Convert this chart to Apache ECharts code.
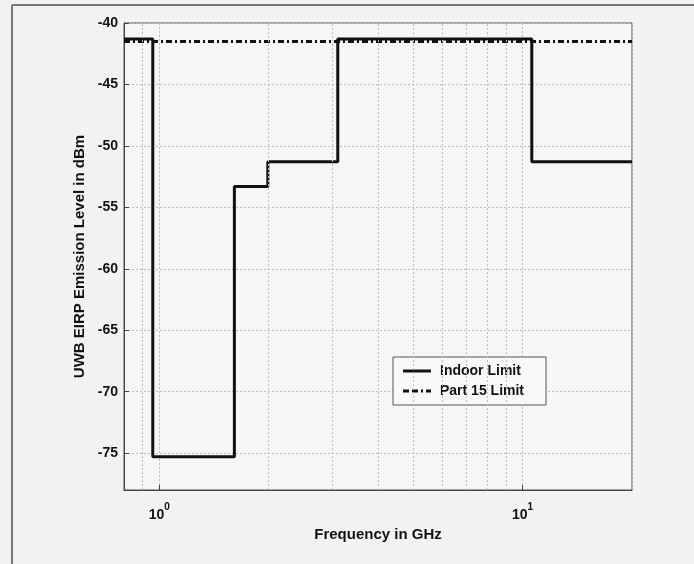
<!DOCTYPE html>
<html>
<head>
<meta charset="utf-8">
<script src="https://cdn.jsdelivr.net/npm/echarts@6/dist/echarts.min.js"></script>
<style>
html,body{margin:0;padding:0;background:#f2f2f2;}
#c{width:694px;height:564px;}
</style>
</head>
<body>
<div id="c"></div>
<script>
// Data (frequency in GHz, level in dBm)
var indoorFreq  = [0.8, 0.96, 0.96, 1.61, 1.61, 1.99, 1.99, 3.1, 3.1, 10.6, 10.6, 20];
var indoorLevel = [-41.3, -41.3, -75.3, -75.3, -53.3, -53.3, -51.3, -51.3, -41.3, -41.3, -51.3, -51.3];
var part15Freq  = [0.8, 20];
var part15Level = [-41.5, -41.5];
var minorGridFreq = [0.9, 2, 3, 4, 5, 6, 7, 8, 9];
var seriesNames = ['Indoor Limit', 'Part 15 Limit'];
var xTitle = 'Frequency in GHz';
var yTitle = 'UWB EIRP Emission Level in dBm';

function pairs(xs, ys){ return xs.map(function(x,i){ return [x, ys[i]]; }); }

var chart = echarts.init(document.getElementById('c'));
var FONT = '"Liberation Sans", Arial, sans-serif';
var grid = {left:124, top:23, right:62, bottom:74};
var solidIcon = 'path://M0,0 H28 V3 H0 Z';
var dashDotIcon = 'path://M0,0 H6 V3 H0 Z M9,0 H15 V3 H9 Z M18,0 H20 V3 H18 Z M23,0 H28 V3 H23 Z';
chart.setOption({
  backgroundColor: '#f2f2f2',
  animation: false,
  textStyle: {fontFamily: FONT},
  graphic: [
    {type:'line', shape:{x1:12, y1:5, x2:694, y2:5}, style:{stroke:'#777', lineWidth:2}},
    {type:'line', shape:{x1:12, y1:5, x2:12, y2:564}, style:{stroke:'#777', lineWidth:2}}
  ],
  grid: {left:grid.left, top:grid.top, right:grid.right, bottom:grid.bottom, show:true,
         backgroundColor:'#f6f6f6', borderColor:'#555', borderWidth:1},
  legend: {
    data: [{name:seriesNames[0], icon:solidIcon}, {name:seriesNames[1], icon:dashDotIcon}],
    orient:'vertical', left:393, top:357,
    backgroundColor:'#f8f8f8', borderColor:'#555', borderWidth:1,
    padding:[7,22,7,10], itemGap:6, itemWidth:28, itemHeight:3,
    itemStyle:{color:'#111'},
    textStyle:{fontFamily:FONT, fontWeight:'bold', fontSize:14, color:'#111', padding:[0,0,0,4]}
  },
  xAxis: {
    type:'log', logBase:10, min:0.8, max:20,
    name: xTitle, nameLocation:'middle', nameGap:36,
    nameTextStyle:{fontFamily:FONT, fontWeight:'bold', fontSize:15, color:'#111'},
    axisLine:{show:true, onZero:false, lineStyle:{color:'#444', width:1}},
    axisTick:{show:true, inside:true, length:5, lineStyle:{color:'#444'}},
    splitLine:{show:true, lineStyle:{color:'#bbb', type:[2,2], width:1}},
    axisLabel:{
      showMinLabel:false, showMaxLabel:false, margin:12,
      formatter:function(v){
        var e = Math.round(Math.log(v)/Math.LN10);
        if (Math.abs(v - Math.pow(10,e)) < 1e-9) return '{b|10}{s|' + e + '}';
        return '';
      },
      rich:{
        b:{fontFamily:FONT, fontWeight:'bold', fontSize:14, color:'#111', lineHeight:20, verticalAlign:'bottom'},
        s:{fontFamily:FONT, fontWeight:'bold', fontSize:10, color:'#111', lineHeight:20, verticalAlign:'top', padding:[0,0,8,0]}
      }
    }
  },
  yAxis: {
    type:'value', min:-78, max:-40, splitNumber:8,
    name: yTitle, nameLocation:'middle', nameGap:19,
    nameTextStyle:{fontFamily:FONT, fontWeight:'bold', fontSize:15, color:'#111'},
    axisLine:{show:true, lineStyle:{color:'#444', width:1}},
    axisTick:{show:true, inside:true, length:5, lineStyle:{color:'#444'}},
    splitLine:{show:true, lineStyle:{color:'#bbb', type:[2,2], width:1}},
    axisLabel:{
      showMinLabel:false, margin:6,
      fontFamily:FONT, fontWeight:'bold', fontSize:14, color:'#111',
      formatter:function(v){ return (Math.round(v) % 5 === 0) ? String(v) : ''; }
    }
  },
  series: [
    {
      name: seriesNames[1], type:'line', symbol:'none', z:2,
      data: pairs(part15Freq, part15Level),
      itemStyle:{color:'#111'},
      lineStyle:{color:'#111', width:3, type:[6,3,2,3]},
      markLine:{
        silent:true, symbol:'none', label:{show:false},
        lineStyle:{color:'#bbb', type:[2,2], width:1},
        data: minorGridFreq.map(function(f){ return {xAxis:f}; })
      }
    },
    {
      name: seriesNames[0], type:'line', symbol:'none', z:3,
      data: pairs(indoorFreq, indoorLevel),
      itemStyle:{color:'#111'},
      lineStyle:{color:'#111', width:3, type:'solid'}
    }
  ]
});
</script>
</body>
</html>
